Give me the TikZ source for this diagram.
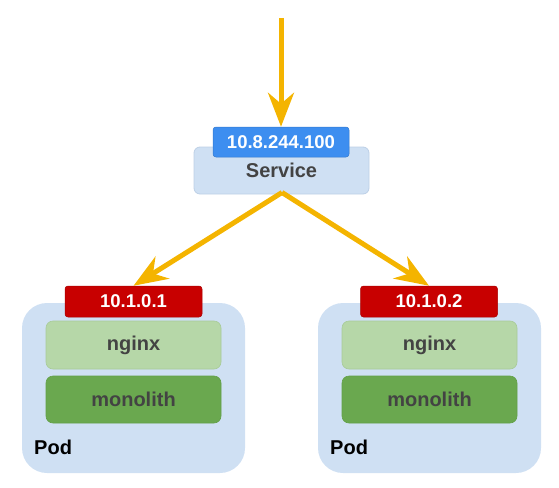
\documentclass[tikz,border=0pt]{standalone}
\usepackage{fontspec}
\setmainfont{Liberation Sans}
\usetikzlibrary{arrows.meta}
\definecolor{arrowyel}{HTML}{F4B400}
\definecolor{svcblue}{HTML}{3D8EF0}
\definecolor{boxblue}{HTML}{CFE0F3}
\definecolor{boxedge}{HTML}{BDD0E6}
\definecolor{ipred}{HTML}{C80000}
\definecolor{ngx}{HTML}{B6D7A8}
\definecolor{ngxedge}{HTML}{A8CB99}
\definecolor{mono}{HTML}{6AA84F}
\definecolor{monoedge}{HTML}{63A048}
\definecolor{txtgray}{HTML}{434343}
\tikzset{
  conn/.style={draw=arrowyel, line width=5pt, -{Stealth[length=34pt,width=26pt,inset=11pt]}},
  podbox/.style={fill=boxblue, rounded corners=25pt, minimum width=223pt, minimum height=170pt, inner sep=0pt},
  iplabel/.style={fill=ipred, draw=ipred!85!black, line width=0.5pt, rounded corners=3pt, minimum width=137pt, minimum height=31pt, inner sep=0pt, text=white, font=\fontsize{18.5}{20}\selectfont\bfseries},
  ngxbox/.style={fill=ngx, draw=ngxedge, line width=0.6pt, rounded corners=7pt, minimum width=175pt, minimum height=48pt, inner sep=0pt, text=txtgray, font=\fontsize{20}{22}\selectfont\bfseries},
  monobox/.style={fill=mono, draw=monoedge, line width=0.6pt, rounded corners=7pt, minimum width=175pt, minimum height=47pt, inner sep=0pt, text=txtgray, font=\fontsize{20}{22}\selectfont\bfseries},
  podtext/.style={anchor=west, inner sep=0pt, font=\fontsize{20}{22}\selectfont\bfseries},
}
\begin{document}
\begin{tikzpicture}[x=1pt,y=-1pt]
\useasboundingbox (0,0) rectangle (559,487);
% service
\node[fill=boxblue, draw=boxedge, line width=0.8pt, rounded corners=6pt, minimum width=175pt, minimum height=47pt, inner sep=0pt, text=txtgray, font=\fontsize{20}{22}\selectfont\bfseries, text depth=0pt, yshift=-1pt] (svc) at (281.5,169.5) {\raisebox{0pt}{Service}};
\node[fill=svcblue, draw=svcblue!85!black, line width=0.5pt, rounded corners=3pt, minimum width=136pt, minimum height=30pt, inner sep=0pt, text=white, font=\fontsize{18.5}{20}\selectfont\bfseries] (svcip) at (281,142) {10.8.244.100};
% left pod
\node[podbox] (podL) at (133.5,388) {};
\node[ngxbox] (ngxL) at (133.5,345) {nginx};
\node[monobox] (monoL) at (133.5,399.5) {monolith};
\node[podtext] (podLt) at (34,447.5) {Pod};
\node[iplabel] (ipL) at (133.5,301.5) {10.1.0.1};
% right pod
\node[podbox] (podR) at (429.5,388) {};
\node[ngxbox] (ngxR) at (429.5,345) {nginx};
\node[monobox] (monoR) at (429.5,399.5) {monolith};
\node[podtext] (podRt) at (330,447.5) {Pod};
\node[iplabel] (ipR) at (429,301.5) {10.1.0.2};
% arrows
\coordinate (in) at (281,18);
\coordinate (svcbot) at (282,192.5);
\draw[conn] (in) -- (svcip.north);
\draw[conn] (svcbot) -- (ipL.north);
\draw[conn] (svcbot) -- (ipR.north);
\end{tikzpicture}
\end{document}
